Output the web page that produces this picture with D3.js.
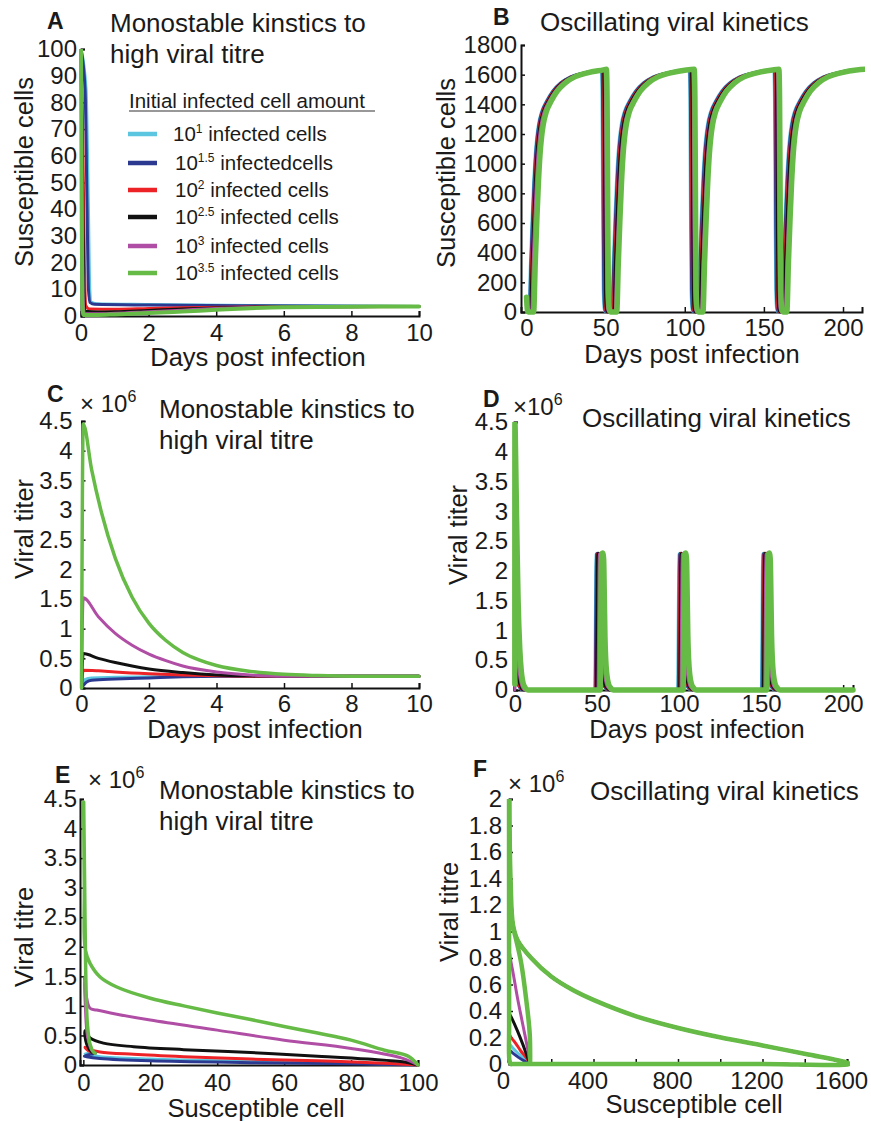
<!DOCTYPE html>
<html>
<head>
<meta charset="utf-8">
<script src="https://cdn.jsdelivr.net/npm/d3@7"></script>
<style>
body{margin:0;background:#fff}
text{font-family:"Liberation Sans",Arial,sans-serif;fill:#1a1a1a}
</style>
</head>
<body>
<script>
// series order: 10^1, 10^1.5, 10^2, 10^2.5, 10^3, 10^3.5 infected cells
let seriesColors = ["#5cc6e0","#2b3990","#ec2227","#111111","#b04ea5","#66bb47"]
let legendExp = ["1","1.5","2","2.5","3","3.5"]
let legendTail = [" infected cells"," infectedcells"," infected cells"," infected cells"," infected cells"," infected cells"]

// tick labels
let ticksDays10 = [0,2,4,6,8,10]
let ticksDays200 = [0,50,100,150,200]
let ticksSusA = [0,10,20,30,40,50,60,70,80,90,100]
let ticksSusB = [0,200,400,600,800,1000,1200,1400,1600,1800]
let ticksViral45 = [0,0.5,1,1.5,2,2.5,3,3.5,4,4.5]
let ticksCellE = [0,20,40,60,80,100]
let ticksCellF = [0,200,400,600,800,1000,1200,1400,1600]
let labelsCellF = [0,400,800,1200,1600]
let ticksViral2 = [0,0.2,0.4,0.6,0.8,1,1.2,1.4,1.6,1.8,2]

// A: susceptible cells vs days [t, S]
let aCyan = [[0,100],[0.15,85],[0.22,40],[0.26,10],[0.3,5.2],[0.45,4.6],[2,4.3],[5,3.9],[10,3.6]]
let aBlue = [[0,100],[0.12,85],[0.18,40],[0.22,10],[0.27,5],[0.4,4.4],[2,4.1],[5,3.8],[10,3.6]]
let aRed = [[0,100],[0.05,70],[0.1,20],[0.14,4],[0.25,2.6],[1,2.5],[2,2.8],[3,3.1],[5,3.4],[10,3.6]]
let aBlack = [[0,100],[0.04,60],[0.08,12],[0.12,1.8],[0.5,1.5],[1,1.6],[2,2.1],[3,2.6],[4,3.0],[6,3.4],[10,3.6]]
let aMagenta = [[0,100],[0.03,50],[0.06,8],[0.1,0.9],[0.5,0.8],[1,1.0],[2,1.6],[3,2.2],[4,2.8],[6,3.3],[10,3.6]]
let aGreen = [[0,100],[0.02,40],[0.04,5],[0.07,0.4],[0.5,0.4],[1,0.6],[2,1.1],[3,1.7],[4,2.3],[5,2.9],[6,3.3],[8,3.5],[10,3.6]]

// B: oscillating susceptible cells, shared shapes + event days per series
let bStart = [[0,100],[0.3,40],[0.7,5],[1.1,0]]
let bRecovery = [[0,0],[1,330],[2,620],[3,870],[4,1060],[5,1180],[6,1260],[8,1350],[11,1420],[15,1490],[20,1545],[26,1585],[34,1612],[44,1632],[60,1640]]
let bCollapse = [[0,1636],[0.4,1450],[0.8,700],[1.2,150],[1.8,20],[2.6,0]]
// [rise, drop, rise, drop, rise, drop, rise] in days
let bCyan = [1.3,47.1,53.6,102.6,108.1,156.1,161.1]
let bBlue = [1.6,47.5,54,103,108.5,156.5,161.5]
let bRed = [2,48,54.5,103.5,109,157,162]
let bBlack = [2.4,48.5,55,104,109.5,157.5,162.5]
let bMagenta = [3,49.3,55.8,104.8,110.3,158.3,163.3]
let bGreen = [4.5,50.5,57,106,111.5,159.5,164.5]

// C: viral titer (x10^6) vs days, monostable
let cCyan = [[0,0],[0.1,0.14],[0.3,0.17],[1,0.18],[2,0.19],[3,0.2],[10,0.2]]
let cBlue = [[0,0],[0.15,0.1],[0.3,0.13],[1,0.15],[2,0.17],[3,0.19],[4,0.2],[10,0.2]]
let cRed = [[0,0],[0.05,0.3],[0.5,0.29],[1,0.27],[2,0.24],[3,0.22],[4,0.205],[5,0.2],[10,0.2]]
let cBlack = [[0,0],[0.05,0.58],[0.5,0.5],[1,0.43],[1.5,0.37],[2,0.32],[3,0.26],[4,0.22],[5,0.205],[6,0.2],[10,0.2]]
let cMagenta = [[0,0],[0.05,1.52],[0.5,1.2],[1,0.92],[1.5,0.72],[2,0.57],[2.5,0.46],[3,0.37],[4,0.27],[5,0.22],[6,0.2],[10,0.2]]
let cGreen = [[0,0],[0.05,4.45],[0.3,3.68],[0.6,2.94],[1,2.19],[1.5,1.53],[2,1.09],[2.5,0.8],[3,0.6],[3.5,0.47],[4,0.38],[5,0.28],[6,0.23],[7,0.21],[8,0.2],[10,0.2]]

// D: oscillating viral titer, first transient + spike shape + onset days
let dCyanStart = [[0,0],[0.2,0.2],[1,0.15],[2,0.09],[4,0]]
let dBlueStart = [[0,0],[0.2,0.14],[1,0.12],[2,0.08],[4,0]]
let dRedStart = [[0,0],[0.1,0.3],[1,0.2],[2,0.11],[3,0.05],[5,0]]
let dBlackStart = [[0,0],[0.1,0.58],[1,0.38],[2,0.2],[3,0.09],[5,0]]
let dMagentaStart = [[0,0],[0.1,1.5],[1,0.9],[2,0.45],[3,0.2],[4,0.08],[6,0]]
let dGreenStart = [[0,0.1],[0.05,4.5],[0.5,3.9],[1,3.0],[1.5,2.2],[2,1.5],[3,0.7],[4,0.3],[5,0.12],[6.5,0.03],[8,0]]
let dSpike = [[0,0],[0.3,0.8],[0.6,1.9],[0.9,2.28],[1.5,2.3],[2.1,2.2],[2.5,1.6],[2.9,0.9],[3.4,0.5],[4.1,0.25],[5.1,0.1],[6.5,0.03],[8,0]]
let dCyanOnsets = [48.5,99,150]
let dBlueOnsets = [48.8,99.4,150.4]
let dRedOnsets = [49.2,99.8,150.8]
let dBlackOnsets = [49.5,100.2,151.2]
let dMagentaOnsets = [50.5,101,152]
let dGreenOnsets = [52,102.5,153.5]

// E: viral titre vs susceptible cells [S, V], monostable
let eCyan = [[100,0],[80,0.03],[50,0.06],[20,0.1],[5,0.14],[2,0.17],[0.5,0.19],[2,0.2],[3.5,0.2]]
let eBlue = [[100,0],[80,0.02],[50,0.04],[20,0.07],[5,0.11],[1,0.14],[0.3,0.15],[2,0.18],[3.5,0.2]]
let eRed = [[100,0],[90,0.03],[70,0.07],[50,0.1],[30,0.14],[15,0.18],[5,0.22],[2,0.26],[0.5,0.3],[1.5,0.24],[3.5,0.2]]
let eBlack = [[100,0],[96,0.05],[85,0.1],[70,0.15],[50,0.21],[30,0.26],[15,0.31],[6,0.37],[2,0.46],[0.5,0.58],[1,0.35],[2.5,0.22],[3.5,0.2]]
let eMagenta = [[100,0],[95,0.12],[80,0.28],[60,0.42],[40,0.59],[20,0.76],[10,0.86],[4,0.93],[2,0.96],[0.8,1.2],[0.3,1.5],[0.6,1.0],[1.2,0.5],[2.5,0.25],[3.5,0.2]]
let eGreen = [[100,0],[97,0.15],[90,0.25],[80,0.42],[70,0.54],[60,0.65],[50,0.77],[40,0.88],[30,1.0],[20,1.13],[10,1.32],[5,1.49],[2,1.72],[0.6,1.95],[0.3,3.0],[0.1,4.45],[0.4,3.0],[0.7,1.6],[1.2,0.7],[2,0.35],[3,0.22],[3.5,0.2]]

// F: viral titre vs susceptible cells, oscillating; first transient then shared cycle
let fCyan = [[100,0],[80,0.03],[50,0.07],[25,0.11],[8,0.14],[2,0.15],[0.3,0.08],[1,0.01],[8,0]]
let fBlue = [[100,0],[75,0.02],[45,0.05],[20,0.08],[5,0.1],[1.5,0.1],[0.3,0.05],[1,0.01],[8,0]]
let fRed = [[100,0],[85,0.04],[55,0.1],[30,0.16],[10,0.2],[2,0.22],[0.3,0.12],[1,0.01],[8,0]]
let fBlack = [[100,0],[88,0.05],[65,0.15],[40,0.25],[18,0.33],[5,0.37],[1,0.38],[0.3,0.2],[1,0.02],[8,0]]
let fMagenta = [[100,0],[90,0.1],[65,0.3],[40,0.5],[18,0.7],[6,0.8],[1.5,0.85],[0.3,0.4],[1,0.03],[8,0]]
let fGreen = [[100,0],[98,0.23],[82,0.48],[58,0.76],[35,0.93],[19,1.04],[8,1.3],[3,1.7],[0.5,3],[0.1,4.5],[0.3,1.2],[0.6,0.3],[2,0.03],[8,0]]
let fCycle = [[16,0],[30,0],[100,0],[200,0],[400,0],[800,0],[1200,0],[1610,0],[1600,0.01],[1405,0.075],[1200,0.14],[1003,0.2],[806,0.27],[602,0.36],[405,0.48],[300,0.56],[200,0.66],[105,0.8],[42,0.93],[19,1.05],[8,1.36],[3,1.74],[0.6,2.3],[0.3,1.2],[0.6,0.3],[2,0.03],[8,0],[16,0],[30,0]]

let svg = d3.select("body").append("svg")
    .attr("width", 871)
    .attr("height", 1121)

//build oscillating S series from its event days
function cycleSeries(ev){
    let pts = bStart.map(d => [d[0], d[1]])
    for(let k=0; k<ev.length; k+=2){
        let rise = ev[k]
        let drop = k+1 < ev.length ? ev[k+1] : Infinity
        bRecovery.forEach(d =>{
            if(rise + d[0] < drop) pts.push([rise + d[0], d[1]])
        })
        if(drop < Infinity){
            bCollapse.forEach(d => pts.push([drop + d[0], d[1]]))
        }
    }
    return pts
}

//build oscillating V series from start transient and spike onsets
function spikeSeries(start, onsets){
    let pts = start.map(d => [d[0], d[1]])
    onsets.forEach(o =>{
        dSpike.forEach(d => pts.push([o + d[0], d[1]]))
    })
    pts.push([206, 0])
    return pts
}

function drawPanel(p){
    let x = d3.scaleLinear().domain(p.xDomain).range(p.xRange)
    let y = d3.scaleLinear().domain(p.yDomain).range(p.yRange)
    let g = svg.append("g")

    let clipId = "clip" + p.letter
    svg.append("clipPath").attr("id", clipId)
        .append("rect")
        .attr("x", p.xRange[0] - 5)
        .attr("y", p.yRange[1])
        .attr("width", p.xRange[1] - p.xRange[0] + 8)
        .attr("height", p.yRange[0] - p.yRange[1] + 5)

    //axes first, curves go over them
    let xAxis = d3.axisBottom(x)
        .tickValues(p.xTicks)
        .tickSizeInner(-5)
        .tickSizeOuter(-5)
        .tickPadding(p.xPad)
        .tickFormat(p.xFormat || (d => String(d)))
    let ax = g.append("g")
        .attr("transform", `translate(0,${p.yRange[0]})`)
        .call(xAxis)
    if(p.xLabelShift) ax.selectAll(".tick text").attr("dx", p.xLabelShift)
    let yAxis = d3.axisLeft(y)
        .tickValues(p.yTicks)
        .tickSizeInner(-4)
        .tickSizeOuter(-4)
        .tickPadding(p.yPad)
        .tickFormat(d => String(d))
    let ay = g.append("g")
        .attr("transform", `translate(${p.xRange[0]},0)`)
        .call(yAxis)
    ;[ax, ay].forEach(a =>{
        a.attr("font-size", 24).attr("font-family", null).attr("color", "#111")
        a.select(".domain").attr("stroke-width", 2)
        a.selectAll(".tick line").attr("stroke-width", 1.5)
    })

    let line = d3.line()
        .x(d => x(d[0]))
        .y(d => y(d[1]))
        .curve(p.curve)

    g.append("g")
        .attr("clip-path", `url(#${clipId})`)
        .selectAll("path")
        .data(p.series)
        .enter()
        .append("path")
        .attr("d", d => line(d))
        .attr("fill", "none")
        .attr("stroke", (d, i) => seriesColors[i])
        .attr("stroke-width", (d, i) => i == 5 ? p.wGreen : p.wOther)
        .attr("stroke-linejoin", "round")
        .attr("stroke-linecap", "round")

    //axis titles
    g.append("text")
        .attr("x", p.xLabelPos[0])
        .attr("y", p.xLabelPos[1])
        .attr("text-anchor", "middle")
        .attr("font-size", 25.5)
        .text(p.xLabel)
    g.append("text")
        .attr("transform", `translate(${p.yLabelPos[0]},${p.yLabelPos[1]}) rotate(-90)`)
        .attr("text-anchor", "middle")
        .attr("font-size", 25.5)
        .text(p.yLabel)

    //panel letter
    g.append("text")
        .attr("x", p.letterPos[0])
        .attr("y", p.letterPos[1])
        .attr("font-size", 23)
        .attr("font-weight", "bold")
        .text(p.letter)

    //title lines
    p.title.forEach((t, i) =>{
        g.append("text")
            .attr("x", p.titlePos[0])
            .attr("y", p.titlePos[1] + i * 31)
            .attr("font-size", 26)
            .text(t)
    })

    //x 10^6 multiplier
    if(p.expPos){
        let t = g.append("text")
            .attr("x", p.expPos[0])
            .attr("y", p.expPos[1])
            .attr("font-size", 24)
        t.append("tspan").text(p.expText)
        t.append("tspan").attr("dy", -10).attr("font-size", 16).text("6")
    }
}

function drawLegend(){
    let g = svg.append("g")
    g.append("text")
        .attr("x", 129)
        .attr("y", 108)
        .attr("font-size", 20.5)
        .text("Initial infected cell amount")
    g.append("line")
        .attr("x1", 129).attr("x2", 375)
        .attr("y1", 111).attr("y2", 111)
        .attr("stroke", "#333")
        .attr("stroke-width", 1.2)

    let rows = [134, 163, 190, 217, 246, 273]
    g.selectAll("line.key")
        .data(seriesColors)
        .enter()
        .append("line")
        .attr("class", "key")
        .attr("x1", 128).attr("x2", 157)
        .attr("y1", (d, i) => rows[i]).attr("y2", (d, i) => rows[i])
        .attr("stroke", d => d)
        .attr("stroke-width", 4.5)

    seriesColors.forEach((c, i) =>{
        let t = g.append("text")
            .attr("x", i == 0 ? 173 : 175)
            .attr("y", rows[i] + 7)
            .attr("font-size", 20.5)
        t.append("tspan").text("10")
        t.append("tspan").attr("dy", -8).attr("font-size", 12).text(legendExp[i])
        t.append("tspan").attr("dy", 8).text(legendTail[i])
    })
}

let mono = d3.curveMonotoneX
let phase = d3.curveCatmullRom.alpha(0.5)

drawPanel({
    letter: "A", letterPos: [47, 29],
    title: ["Monostable kinstics to", "high viral titre"], titlePos: [110, 32],
    xDomain: [0, 10], xRange: [81, 419], yDomain: [0, 100], yRange: [316, 49],
    xTicks: ticksDays10, yTicks: ticksSusA, xPad: 8, yPad: 4,
    xLabel: "Days post infection", xLabelPos: [258, 366],
    yLabel: "Susceptible cells", yLabelPos: [33, 172],
    series: [aCyan, aBlue, aRed, aBlack, aMagenta, aGreen],
    curve: mono, wOther: 3, wGreen: 4
})

drawPanel({
    letter: "B", letterPos: [493, 25],
    title: ["Oscillating viral kinetics"], titlePos: [540, 31],
    xDomain: [-3.5, 212], xRange: [521, 862], yDomain: [0, 1800], yRange: [312, 45],
    xTicks: ticksDays200, yTicks: ticksSusB, xPad: 7, yPad: 4,
    xLabel: "Days post infection", xLabelPos: [692, 363],
    yLabel: "Susceptible cells", yLabelPos: [455, 173],
    series: [bCyan, bBlue, bRed, bBlack, bMagenta, bGreen].map(cycleSeries),
    curve: mono, wOther: 2.5, wGreen: 5.5
})

drawPanel({
    letter: "C", letterPos: [47, 402],
    title: ["Monostable kinstics to", "high viral titre"], titlePos: [159, 418],
    expPos: [80, 412], expText: "\u00d7 10",
    xDomain: [0, 10], xRange: [81.5, 419], yDomain: [0, 4.5], yRange: [688, 421],
    xTicks: ticksDays10, yTicks: ticksViral45, xPad: 7, yPad: 9,
    xLabel: "Days post infection", xLabelPos: [255, 738],
    yLabel: "Viral titer", yLabelPos: [33, 529],
    series: [cCyan, cBlue, cRed, cBlack, cMagenta, cGreen],
    curve: mono, wOther: 3, wGreen: 3.5
})

drawPanel({
    letter: "D", letterPos: [483, 407],
    title: ["Oscillating viral kinetics"], titlePos: [582, 427],
    expPos: [513, 415], expText: "\u00d710",
    xDomain: [-0.5, 206], xRange: [514, 853], yDomain: [0, 4.5], yRange: [690, 422],
    xTicks: ticksDays200, yTicks: ticksViral45, xPad: 5, yPad: 6,
    xLabel: "Days post infection", xLabelPos: [697, 738],
    yLabel: "Viral titer", yLabelPos: [467, 535],
    series: [
        spikeSeries(dCyanStart, dCyanOnsets),
        spikeSeries(dBlueStart, dBlueOnsets),
        spikeSeries(dRedStart, dRedOnsets),
        spikeSeries(dBlackStart, dBlackOnsets),
        spikeSeries(dMagentaStart, dMagentaOnsets),
        spikeSeries(dGreenStart, dGreenOnsets)
    ],
    curve: mono, wOther: 2.5, wGreen: 5.5
})

drawPanel({
    letter: "E", letterPos: [55, 783],
    title: ["Monostable kinstics to", "high viral titre"], titlePos: [159, 799],
    expPos: [88, 788], expText: "\u00d7 10",
    xDomain: [-1, 100], xRange: [80, 418], yDomain: [0, 4.5], yRange: [1065, 799],
    xTicks: ticksCellE, yTicks: ticksViral45, xPad: 9, yPad: 3,
    xLabel: "Susceptible cell", xLabelPos: [256, 1117],
    yLabel: "Viral titre", yLabelPos: [33, 937],
    series: [eCyan, eBlue, eRed, eBlack, eMagenta, eGreen],
    curve: phase, wOther: 3, wGreen: 3.5
})

drawPanel({
    letter: "F", letterPos: [473, 777],
    title: ["Oscillating viral kinetics"], titlePos: [590, 800],
    expPos: [508, 792], expText: "\u00d7 10",
    xDomain: [0, 1600], xRange: [509, 847], yDomain: [0, 2], yRange: [1064, 799],
    xTicks: ticksCellF, xFormat: d => labelsCellF.includes(d) ? String(d) : "",
    xLabelShift: -6,
    yTicks: ticksViral2, xPad: 8, yPad: 7,
    xLabel: "Susceptible cell", xLabelPos: [694, 1113],
    yLabel: "Viral titre", yLabelPos: [458, 912],
    series: [fCyan, fBlue, fRed, fBlack, fMagenta, fGreen].map(s => s.concat(fCycle)),
    curve: phase, wOther: 3, wGreen: 4.5
})

drawLegend()
</script>
</body>
</html>
